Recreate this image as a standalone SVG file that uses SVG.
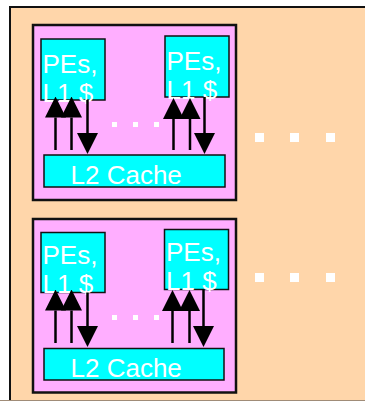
<svg xmlns="http://www.w3.org/2000/svg" width="365" height="401" viewBox="0 0 365 401">
  <style>
    .frame { fill: #FFD6AA; stroke: #111; stroke-width: 2; }
    .cluster { fill: #FFAEFF; stroke: #111; stroke-width: 2.5; }
    .box { fill: #00FFFF; stroke: #111; stroke-width: 1.5; }
    .lbl { font-family: "Liberation Sans", Arial, sans-serif; font-size: 26px; fill: #FFFFFF; }
    .wire { stroke: #000; stroke-width: 2.5; fill: none; marker-end: url(#head); }
    .dot { fill: #FFFFFF; }
  </style>
  <defs>
    <marker id="head" viewBox="0 0 21 21" refX="0" refY="10.5" markerWidth="21" markerHeight="21" markerUnits="userSpaceOnUse" orient="auto">
      <path d="M0,0 L21,10.5 L0,21 Z" fill="#000"/>
    </marker>
  </defs>

  <!-- outer system frame (runs off the right and bottom edges) -->
  <g id="system">
    <rect class="frame" x="10" y="7" width="370" height="410"/>
    <line x1="0" y1="400.5" x2="365" y2="400.5" stroke="#A08C78" stroke-width="1"/>
    <!-- more clusters -->
    <rect class="dot" x="255" y="133" width="9" height="9"/>
    <rect class="dot" x="290" y="133" width="9" height="9"/>
    <rect class="dot" x="326" y="133" width="9" height="9"/>
    <rect class="dot" x="255" y="273" width="9" height="9"/>
    <rect class="dot" x="290" y="273" width="9" height="9"/>
    <rect class="dot" x="326" y="273" width="9" height="9"/>
  </g>

  <!-- cluster 1 -->
  <g id="cluster1">
    <rect class="cluster" x="33" y="25" width="203" height="175"/>
    <rect class="dot" x="112" y="122" width="5" height="5"/>
    <rect class="dot" x="133" y="122" width="5" height="5"/>
    <rect class="dot" x="154" y="122" width="5" height="5"/>
  </g>
  <g id="pe1a">
    <rect class="box" x="41" y="39" width="64" height="61"/>
    <text class="lbl" x="42.5" y="73">PEs,</text>
    <text class="lbl" x="42.5" y="102">L1 $</text>
  </g>
  <g id="pe1b">
    <rect class="box" x="165" y="36" width="64" height="61"/>
    <text class="lbl" x="166.5" y="70">PEs,</text>
    <text class="lbl" x="166.5" y="99">L1 $</text>
  </g>
  <g id="l2a">
    <rect class="box" x="44" y="155" width="181" height="32"/>
    <text class="lbl" x="70.5" y="184">L2 Cache</text>
  </g>

  <!-- cluster 2 -->
  <g id="cluster2">
    <rect class="cluster" x="33" y="219" width="203" height="173.5"/>
    <rect class="dot" x="112" y="315" width="5" height="5"/>
    <rect class="dot" x="133" y="315" width="5" height="5"/>
    <rect class="dot" x="154" y="315" width="5" height="5"/>
  </g>
  <g id="pe2a">
    <rect class="box" x="41" y="232.5" width="64" height="60"/>
    <text class="lbl" x="42.5" y="264">PEs,</text>
    <text class="lbl" x="42.5" y="293">L1 $</text>
  </g>
  <g id="pe2b">
    <rect class="box" x="164.5" y="229.5" width="64" height="60"/>
    <text class="lbl" x="166" y="261">PEs,</text>
    <text class="lbl" x="166" y="290">L1 $</text>
  </g>
  <g id="l2b">
    <rect class="box" x="44" y="348.5" width="180" height="31.5"/>
    <text class="lbl" x="70.5" y="377">L2 Cache</text>
  </g>

  <!-- connectors between L1 and L2 -->
  <g id="connectors">
    <line class="wire" x1="55.5" y1="150" x2="55.5" y2="117.5"/>
    <line class="wire" x1="71.5" y1="150" x2="71.5" y2="117.5"/>
    <line class="wire" x1="87.5" y1="100" x2="87.5" y2="133"/>
    <line class="wire" x1="173.5" y1="150" x2="173.5" y2="119"/>
    <line class="wire" x1="190" y1="150" x2="190" y2="119"/>
    <line class="wire" x1="204.5" y1="97" x2="204.5" y2="133"/>

    <line class="wire" x1="55.5" y1="343" x2="55.5" y2="310.5"/>
    <line class="wire" x1="71.5" y1="343" x2="71.5" y2="310.5"/>
    <line class="wire" x1="87.5" y1="292.5" x2="87.5" y2="326"/>
    <line class="wire" x1="172.5" y1="343" x2="172.5" y2="311"/>
    <line class="wire" x1="189.5" y1="343" x2="189.5" y2="311"/>
    <line class="wire" x1="203.5" y1="289.5" x2="203.5" y2="326"/>
  </g>
</svg>
